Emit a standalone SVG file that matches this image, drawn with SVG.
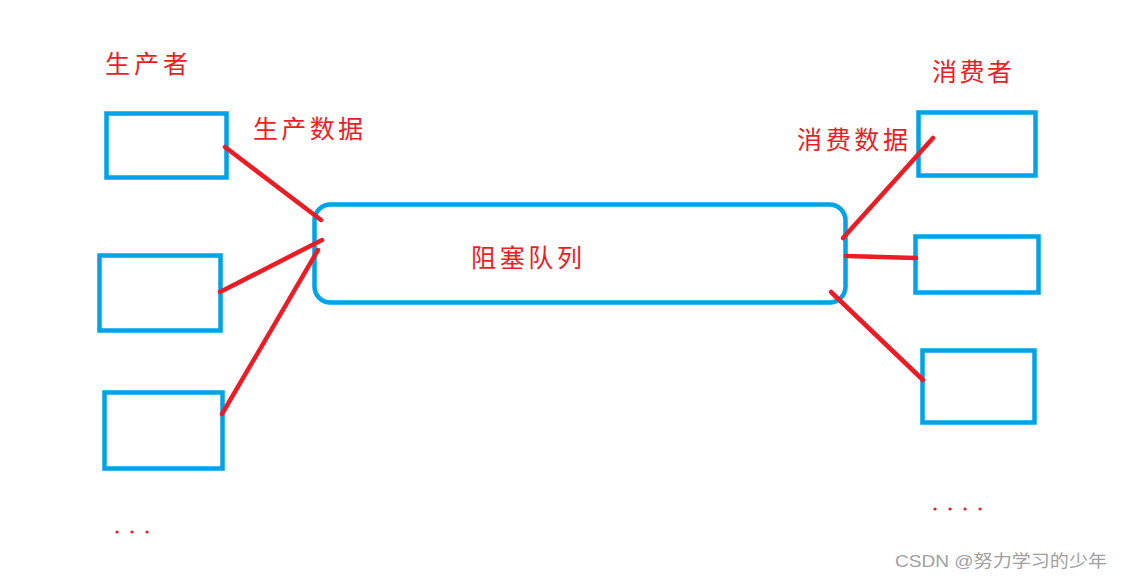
<svg xmlns="http://www.w3.org/2000/svg" width="1122" height="580" viewBox="0 0 1122 580">
<style>
.box{fill:none;stroke:#00A2E8;stroke-width:4.5}
.lbl{fill:#ED1C24;font-family:"Noto Sans CJK SC","Noto Sans",sans-serif;font-size:25px}
.ln{stroke:#ED1C24;stroke-width:4.5;stroke-linecap:round;fill:none}
.dot{fill:#ED1C24}
.wm{fill:#A0A0A0;font-family:"Liberation Sans","Noto Sans CJK SC",sans-serif;font-size:17px}
</style>
<rect width="1122" height="580" fill="#fff"/>
<text class="lbl" x="105" y="73" textLength="83" lengthAdjust="spacing">生产者</text>
<text class="lbl" x="253" y="138" textLength="110" lengthAdjust="spacing">生产数据</text>
<text class="lbl" x="932" y="81" textLength="80" lengthAdjust="spacing">消费者</text>
<text class="lbl" x="797" y="149" textLength="111" lengthAdjust="spacing">消费数据</text>
<g id="p1"><rect class="box" x="106.5" y="113.5" width="120" height="64"/></g>
<g id="p2"><rect class="box" x="99.5" y="255.5" width="121" height="75"/></g>
<g id="p3"><rect class="box" x="104.5" y="392.5" width="118" height="76"/></g>
<g id="queue"><rect class="box" x="314.5" y="204.5" width="531" height="98" rx="16"/>
<text class="lbl" x="471" y="267" textLength="111" lengthAdjust="spacing">阻塞队列</text></g>
<g id="c1"><rect class="box" x="918.5" y="112.5" width="117" height="63"/></g>
<g id="c2"><rect class="box" x="915.5" y="236.5" width="123" height="56"/></g>
<g id="c3"><rect class="box" x="922.5" y="350.5" width="112" height="72"/></g>
<g id="connectors">
<line class="ln" x1="225" y1="147" x2="321" y2="220"/>
<line class="ln" x1="220" y1="292" x2="322" y2="240"/>
<line class="ln" x1="222" y1="414" x2="318" y2="250"/>
<line class="ln" x1="933" y1="138" x2="843" y2="238"/>
<line class="ln" x1="846" y1="256" x2="916" y2="258"/>
<line class="ln" x1="831" y1="292" x2="923" y2="380"/>
</g>
<g id="dots">
<circle class="dot" cx="117" cy="532" r="1.6"/><circle class="dot" cx="132" cy="532" r="1.6"/><circle class="dot" cx="147" cy="532" r="1.6"/>
<circle class="dot" cx="935" cy="509" r="1.6"/><circle class="dot" cx="950" cy="509" r="1.6"/><circle class="dot" cx="965" cy="509" r="1.6"/><circle class="dot" cx="980" cy="509" r="1.6"/>
</g>
<text class="wm" x="895" y="567" textLength="212" lengthAdjust="spacingAndGlyphs">CSDN @努力学习的少年</text>
</svg>
